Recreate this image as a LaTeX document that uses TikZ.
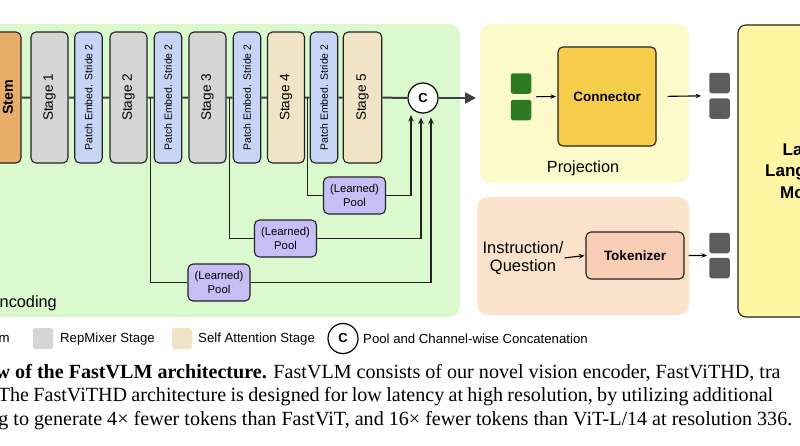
\documentclass[tikz,border=0pt]{standalone}
\usepackage{fontspec}
\usepackage{graphicx}
\setmainfont{Liberation Sans}
\newfontfamily\capfont{Liberation Serif}
\usetikzlibrary{arrows.meta,calc}
\newcommand{\fsz}[2]{\fontsize{#1}{#2}\selectfont}
\definecolor{greenbg}{HTML}{DAF9CF}
\definecolor{stemorange}{HTML}{E8AD6B}
\definecolor{stagegray}{HTML}{D5D5D5}
\definecolor{peblue}{HTML}{C6D5F6}
\definecolor{sabeige}{HTML}{F1E3C5}
\definecolor{poolpurple}{HTML}{C7BEF6}
\definecolor{projyellow}{HTML}{FCF9CB}
\definecolor{connyellow}{HTML}{F6CD4B}
\definecolor{peachbg}{HTML}{FBE3CB}
\definecolor{tokpeach}{HTML}{F8CDB5}
\definecolor{llmyellow}{HTML}{FEF6A3}
\definecolor{tokgreen}{HTML}{2E7A20}
\definecolor{tokgray}{HTML}{5C5C5C}
\definecolor{linegray}{HTML}{404040}
\definecolor{edge}{HTML}{222222}
\begin{document}
\begin{tikzpicture}[x=1pt,y=-1pt,
  box/.style={draw=edge, line width=1.1pt, rounded corners=5pt, minimum width=37pt, minimum height=131pt, inner sep=0pt},
  stagebox/.style={box, fill=stagegray, font=\fsz{13.6}{16}},
  pebox/.style={box, fill=peblue, minimum width=27.5pt, font=\fsz{10.5}{12}},
  sabox/.style={box, fill=sabeige, font=\fsz{13.6}{16}},
  poolbox/.style={draw=edge, fill=poolpurple, line width=1.1pt, rounded corners=5pt, minimum width=62pt, minimum height=37pt, inner sep=0pt, align=center, font=\fsz{11.3}{13.5}},
  panel/.style={draw=none, rounded corners=11pt, inner sep=0pt},
  mainline/.style={draw=linegray, line width=2pt},
  branch/.style={draw=edge, line width=1.2pt},
  uparrow/.style={branch, -{Stealth[length=6.5pt,width=5.5pt]}},
  smallarrow/.style={draw=black, line width=1.1pt, -{Stealth[length=5.5pt,width=4.5pt]}},
  tok/.style={draw=none, rounded corners=2.5pt, minimum width=20.5pt, minimum height=20.5pt, inner sep=0pt},
  solidbox/.style={draw=edge, line width=1.1pt, rounded corners=5pt, inner sep=0pt, font=\fsz{13.5}{16}\bfseries},
  llmtext/.style={anchor=base west, inner sep=0pt, font=\fsz{17}{20}\bfseries},
  legtext/.style={anchor=west, inner sep=0pt, font=\fsz{13.2}{16}},
  captext/.style={anchor=base west, inner sep=0pt, font=\capfont\fsz{20.1}{23}}
]
\useasboundingbox (0,0) rectangle (800,445);
\clip (0,0) rectangle (800,445);
\fill[white] (0,0) rectangle (800,445);

% ---- panels
\node[panel, fill=greenbg, minimum width=490pt, minimum height=293pt] (encpanel) at (215,170.5) {};
\node[panel, fill=projyellow, minimum width=209pt, minimum height=159pt] (projpanel) at (584.5,103.5) {};
\node[panel, fill=peachbg, minimum width=212pt, minimum height=118pt] (peachpanel) at (583,256) {};

% ---- encoder stages
\node[box, fill=stemorange, minimum width=37pt] (stem) at (2.5,97.5) {};
\node[inner sep=0pt, rotate=90, font=\fsz{14.3}{16}\bfseries] (stemt) at (8,97.5) {Stem};
\node[stagebox] (s1) at (49.5,97.5) {\rotatebox{90}{Stage 1}};
\node[pebox] (pe1) at (88.5,97.5) {\rotatebox{90}{Patch Embed. Stride 2}};
\node[stagebox] (s2) at (128.5,97.5) {\rotatebox{90}{Stage 2}};
\node[pebox] (pe2) at (168,97.5) {\rotatebox{90}{Patch Embed. Stride 2}};
\node[stagebox] (s3) at (207.5,97.5) {\rotatebox{90}{Stage 3}};
\node[pebox] (pe3) at (247,97.5) {\rotatebox{90}{Patch Embed. Stride 2}};
\node[sabox] (s4) at (286,97.5) {\rotatebox{90}{Stage 4}};
\node[pebox] (pe4) at (324,97.5) {\rotatebox{90}{Patch Embed. Stride 2}};
\node[sabox, minimum width=38.5pt] (s5) at (362.5,97.5) {\rotatebox{90}{Stage 5}};
\node[circle, draw=black, line width=1.2pt, fill=white, minimum size=30pt, inner sep=0pt, font=\fsz{13}{15}\bfseries] (cc) at (423,98) {C};
\coordinate (outend) at (476,98);

\draw[mainline] (stem) -- (s1) -- (pe1) -- (s2) -- (pe2) -- (s3) -- (pe3) -- (s4) -- (pe4) -- (s5) -- (cc);
\draw[draw=linegray, line width=2.4pt, -{Triangle[length=11pt,width=11pt]}] (cc) -- (outend);

% ---- pooling branches
\node[poolbox] (pool1) at (219,282.5) {(Learned)\\Pool};
\node[poolbox] (pool2) at (285.5,238.5) {(Learned)\\Pool};
\node[poolbox] (pool3) at (354.5,195.5) {(Learned)\\Pool};
\coordinate (b1) at ($(s2.east)!0.5!(pe2.west)$);
\coordinate (b2) at ($(s3.east)!0.5!(pe3.west)$);
\coordinate (b3) at ($(s4.east)!0.5!(pe4.west)$);
\coordinate (in1) at (431,117.5);
\coordinate (in2) at (421,117.5);
\coordinate (in3) at (411,115);
\draw[branch] (b1) |- (pool1.west);
\draw[branch] (b2) |- (pool2.west);
\draw[branch] (b3) |- (pool3.west);
\draw[uparrow] (pool1.east) -| (in1);
\draw[uparrow] (pool2.east) -| (in2);
\draw[uparrow] (pool3.east) -| (in3);

\node[anchor=base west, inner sep=0pt, font=\fsz{16.3}{19}] (enclabel) at (-0.5,307) {ncoding};

% ---- projection
\node[tok, fill=tokgreen] (g1) at (521,83.5) {};
\node[tok, fill=tokgreen] (g2) at (521,110) {};
\node[solidbox, fill=connyellow, minimum width=98pt, minimum height=99pt] (conn) at (607,96.5) {Connector};
\node[tok, fill=tokgray] (q1) at (719.5,83) {};
\node[tok, fill=tokgray] (q2) at (719.5,108.5) {};
\draw[smallarrow, shorten <=5pt, shorten >=1.5pt] ($(g1.south east)!0.5!(g2.north east)$) -- (conn.west);
\draw[smallarrow, shorten <=11pt, shorten >=8pt] (conn.east) -- ($(q1.south west)!0.5!(q2.north west)$);
\node[inner sep=0pt, font=\fsz{16.2}{19}] (projlabel) at (583,168) {Projection};

% ---- tokenizer
\node[inner sep=0pt, align=center, font=\fsz{16.5}{18}] (instr) at (523,258) {Instruction/\\Question};
\node[solidbox, fill=tokpeach, minimum width=98pt, minimum height=47pt] (tokz) at (635,255.5) {Tokenizer};
\node[tok, fill=tokgray] (q3) at (719.5,243) {};
\node[tok, fill=tokgray] (q4) at (719.5,268) {};
\draw[smallarrow, shorten <=1pt, shorten >=1pt] (instr.east) -- (tokz.west);
\draw[smallarrow, shorten <=4pt, shorten >=2pt] (tokz.east) -- ($(q3.south west)!0.5!(q4.north west)$);

% ---- LLM
\node[solidbox, fill=llmyellow, rounded corners=8pt, minimum width=128pt, minimum height=292pt] (llm) at (802,171) {};
\node[llmtext] (llm1) at (782.5,155) {La};
\node[llmtext] (llm2) at (765,176.5) {Lang};
\node[llmtext] (llm3) at (780,198) {Mo};

% ---- legend
\node[legtext] (legstem) at (-1.5,339) {m};
\node[tok, fill=stagegray, minimum width=20pt, minimum height=21pt] (leggray) at (43,338.5) {};
\node[legtext] (legrep) at (60,339) {RepMixer Stage};
\node[tok, fill=sabeige, minimum width=20pt, minimum height=21pt] (legbeige) at (182,338.5) {};
\node[legtext] (legsa) at (198,339) {Self Attention Stage};
\node[circle, draw=black, line width=1.2pt, minimum size=30pt, inner sep=0pt, font=\fsz{13}{15}\bfseries] (legc) at (343,338.5) {C};
\node[legtext] (legpool) at (363,339) {Pool and Channel-wise Concatenation};

% ---- caption
\node[captext] (cap1) at (-4.5,378) {{\bfseries w of the FastVLM architecture.} FastVLM consists of our novel vision encoder, FastViTHD, tra};
\node[captext] (cap2) at (-2.3,401.5) {\spaceskip=4.3pt The FastViTHD architecture is designed for low latency at high resolution, by utilizing additional};
\node[captext] (cap3) at (-1.8,425) {g to generate 4× fewer tokens than FastViT, and 16× fewer tokens than ViT-L/14 at resolution 336.};
\end{tikzpicture}
\end{document}
